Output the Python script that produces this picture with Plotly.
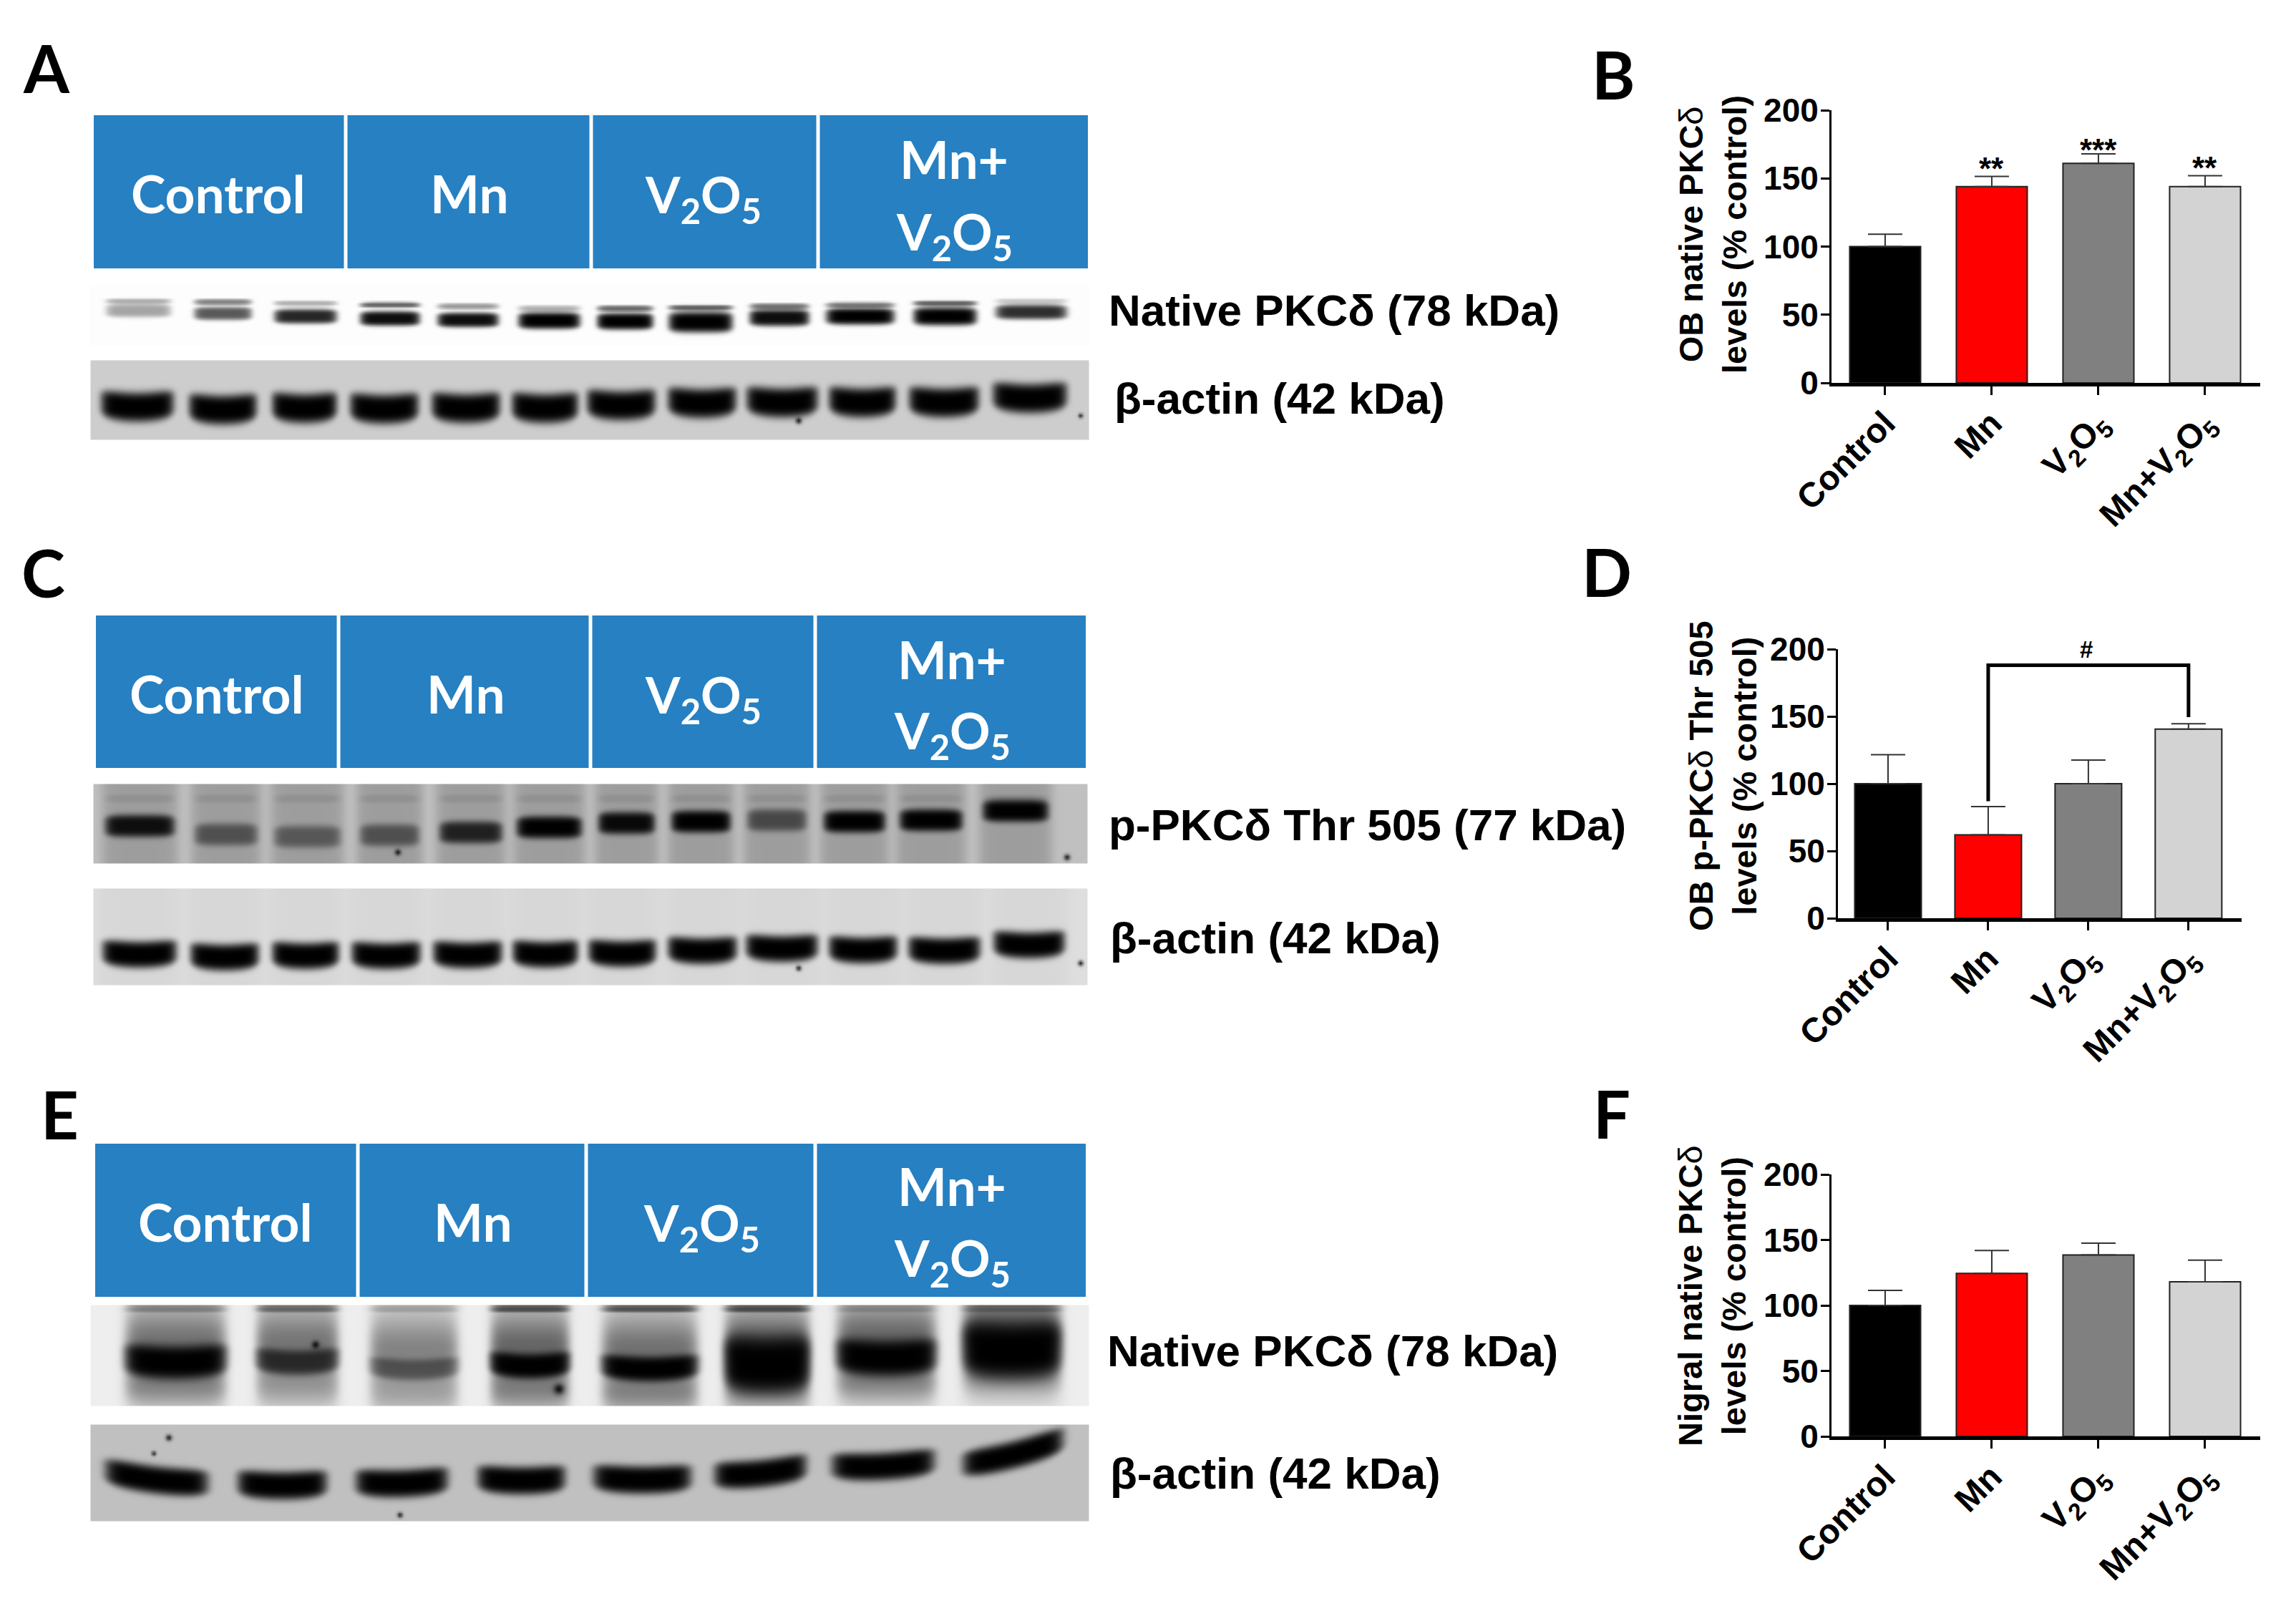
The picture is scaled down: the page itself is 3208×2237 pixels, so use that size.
import numpy as np
import plotly.graph_objects as go

W, H = 3208, 2237

# ---------- bar chart data ----------
categories = ["Control", "Mn", "V2O5", "Mn+V2O5"]
tick_labels = ["Control", "Mn", "V<sub>2</sub>O<sub>5</sub>", "Mn+V<sub>2</sub>O<sub>5</sub>"]
bar_colors = ["#000000", "#ff0000", "#808080", "#d3d3d3"]

b_values = [100, 144, 161, 144]
b_errors = [9, 7.5, 7, 8]
d_values = [100, 62, 100, 140.5]
d_errors = [21.5, 21, 17.5, 4]
f_values = [100, 124.5, 138.5, 118]
f_errors = [11.5, 17.5, 9, 16.5]
yticks = [0, 50, 100, 150, 200]

# ---------- western-blot band readings (crop pixels of the reference) ----------
a1_left = [147, 270, 382, 502, 610, 723, 833, 933, 1046, 1153, 1275, 1390]
a1_right = [238, 351, 470, 586, 696, 810, 912, 1023, 1130, 1249, 1364, 1490]
a1_low_y = [433, 437, 441, 444, 446, 447, 448, 449, 443, 441, 441, 435]
a1_low_h = [19, 19, 21, 21, 21, 24, 24, 30, 24, 24, 26, 21]
a1_low_d = [.35, .65, .85, .95, .95, 1, 1, 1, .95, 1, 1, .82]
a1_up_y = [420, 421, 423, 425, 427, 430, 430, 429, 427, 425, 423, 420]
a1_up_d = [.3, .5, .3, .6, .4, .3, .6, .6, .55, .5, .6, .2]

a2_left = [140, 263, 379, 488, 602, 714, 819, 932, 1042, 1157, 1269, 1386]
a2_right = [242, 358, 470, 584, 698, 807, 915, 1028, 1142, 1251, 1367, 1490]
a2_y = [568, 572, 570, 571, 570, 570, 566, 563, 562, 562, 562, 556]

c1_left = [146, 271, 382, 502, 613, 721, 835, 937, 1043, 1150, 1256, 1372]
c1_right = [243, 359, 475, 585, 701, 812, 914, 1020, 1126, 1236, 1344, 1464]
c1_y = [1153, 1165, 1168, 1166, 1162, 1155, 1149, 1147, 1145, 1147, 1145, 1132]
c1_d = [.92, .5, .45, .5, .8, 1, .95, 1, .55, 1, 1, 1]

c2_left = [142, 265, 379, 490, 604, 715, 821, 932, 1041, 1157, 1268, 1387]
c2_right = [246, 361, 473, 587, 701, 807, 916, 1029, 1142, 1253, 1369, 1487]
c2_y = [1333, 1337, 1335, 1335, 1334, 1333, 1332, 1328, 1325, 1327, 1328, 1320]

e1_left = [174, 357, 516, 684, 840, 1011, 1168, 1344]
e1_right = [315, 472, 639, 795, 974, 1131, 1307, 1482]
e1_y = [1903, 1903, 1913, 1908, 1912, 1907, 1897, 1887]
e1_h = [48, 36, 30, 36, 36, 80, 52, 78]
e1_d = [1, .7, .45, 1, 1, 1, 1, 1]
e1_smear = [.5, .48, .42, .55, .5, .62, .55, .65]

e2_left = [146, 331, 496, 666, 828, 997, 1161, 1344]
e2_right = [290, 456, 625, 789, 965, 1126, 1305, 1485]
e2_y = [2067, 2075, 2072, 2068, 2067, 2058, 2048, 2032]
e2_slope = [.12, 0, -.03, 0, 0, -.1, -.05, -.25]


def blot(x0, x1, y0, y1, bg, lane_tone, left, right, layers, specks=()):
    xs = np.arange(x0, x1 + 3, 3.0)
    ys = np.arange(y0, y1 + 3, 3.0)
    X, Y = np.meshgrid(xs, ys)
    z = np.full(X.shape, float(bg))
    for l, r in zip(left, right):
        c, w = (l + r) / 2, (r - l) / 2
        z *= 1 - (1 - lane_tone) * np.exp(-(((X - c) / (w + 6)) ** 8))
    for layer in layers:
        curve = layer.get("curve", 0)
        power = layer.get("power", 4)
        for i, (l, r) in enumerate(zip(left, right)):
            c, w = (l + r) / 2, (r - l) / 2
            u = (X - c) / w
            s = layer.get("slope", [0] * len(left))[i]
            h = layer["h"][i] / 2 * np.maximum(1 - 0.18 * u ** 4, .2)
            v = (Y - layer["y"][i] - s * (X - c) + curve * u ** 2) / h
            g = np.exp(-v ** power) * np.exp(-np.abs(u) ** 10)
            z *= 1 - layer["d"][i] * g
    for sx, sy, sr in specks:
        z *= 1 - 0.9 * np.exp(-(((X - sx) ** 2 + (Y - sy) ** 2) / sr ** 2))
    return go.Heatmap(x=xs, y=ys, z=z, zmin=0, zmax=255, zsmooth="best", showscale=False,
                      colorscale=[[0, "#000000"], [1, "#ffffff"]], hoverinfo="skip",
                      xaxis="x", yaxis="y")


n = 12
blots = [
    blot(128, 1519, 400, 480, 253, 1.0, a1_left, a1_right, [
        dict(y=a1_low_y, h=a1_low_h, d=a1_low_d),
        dict(y=a1_up_y, h=[8] * n, d=a1_up_d)]),
    blot(128, 1519, 505, 611, 205, 1.0, a2_left, a2_right, [
        dict(y=a2_y, h=[42] * n, d=[1] * n, curve=6)],
         specks=[(1115, 587, 4), (1509, 580, 3)]),
    blot(132, 1518, 1097, 1205, 192, .82, c1_left, c1_right, [
        dict(y=c1_y, h=[32] * n, d=c1_d),
        dict(y=[1115] * n, h=[12] * n, d=[.08] * n)],
         specks=[(1490, 1197, 4), (555, 1190, 4)]),
    blot(132, 1518, 1243, 1375, 222, .97, c2_left, c2_right, [
        dict(y=c2_y, h=[38] * n, d=[1] * n, curve=5)],
         specks=[(1115, 1352, 3.5), (1509, 1345, 3.5)]),
    blot(128, 1518, 1825, 1962, 238, .95, e1_left, e1_right, [
        dict(y=e1_y, h=e1_h, d=e1_d, curve=6),
        dict(y=[v - 26 for v in e1_y], h=[110] * 8, d=e1_smear, power=2),
        dict(y=[v + 34 for v in e1_y], h=[56] * 8, d=[.32, .22, .18, .32, .32, .32, .32, .32], power=2),
        dict(y=[1828] * 8, h=[9] * 8, d=[.3, .45, .2, .6, .6, .6, .2, .3]),
        ], specks=[(440, 1878, 5), (780, 1940, 7)]),
    blot(128, 1518, 1992, 2122, 192, 1.0, e2_left, e2_right, [
        dict(y=e2_y, h=[40] * 8, d=[1] * 8, slope=e2_slope, curve=5)],
         specks=[(235, 2008, 4), (214, 2030, 3), (558, 2116, 3.5)]),
]

fig = go.Figure(blots)


# ---------- bar panels ----------
def add_bars(ax, values, errors):
    fig.add_trace(go.Bar(
        x=categories, y=values, width=0.665,
        marker=dict(color=bar_colors, line=dict(color="#222222", width=2)),
        error_y=dict(type="data", symmetric=False, array=errors, arrayminus=[0] * 4,
                     thickness=2, width=24, color="#333333"),
        xaxis="x" + ax, yaxis="y" + ax, showlegend=False))


add_bars("2", b_values, b_errors)
add_bars("3", d_values, d_errors)
add_bars("4", f_values, f_errors)
fig.add_trace(go.Scatter(x=["Mn", "Mn", "Mn+V2O5", "Mn+V2O5"], y=[87, 188, 188, 149.5],
                         mode="lines", line=dict(color="black", width=5),
                         xaxis="x3", yaxis="y3", showlegend=False))

XTICK = dict(family="Liberation Sans", size=48, color="black", weight="bold")
YTICK = dict(family="Liberation Sans", size=46, color="black", weight="bold")
DELTA = "<span style='font-weight:normal'>δ</span>"


def axes(x0, x1, y_top, y_bot, xr):
    xa = dict(domain=[x0 / W, x1 / W], range=xr, type="category", categoryorder="array",
              categoryarray=categories, tickmode="array", tickvals=categories, ticktext=tick_labels,
              tickangle=-45, tickfont=XTICK, showline=True, linewidth=5, linecolor="black",
              ticks="outside", ticklen=12, tickwidth=3, tickcolor="black", ticklabelstandoff=-8,
              showgrid=False, zeroline=False, fixedrange=True)
    ya = dict(domain=[1 - y_bot / H, 1 - y_top / H], range=[0, 200], tickmode="array",
              tickvals=yticks, tickfont=YTICK, showline=True, linewidth=3, linecolor="black",
              ticks="outside", ticklen=12, tickwidth=3, tickcolor="black", ticklabelstandoff=-6,
              showgrid=False, zeroline=False, fixedrange=True)
    return xa, ya


xb, yb = axes(2559, 3158, 154, 535, [-0.503, 3.517])
xd, yd = axes(2568, 3132, 907, 1283, [-0.5, 3.53])
xf, yf = axes(2559, 3158, 1641, 2007, [-0.503, 3.517])
xb["anchor"], yb["anchor"] = "y2", "x2"
xd["anchor"], yd["anchor"] = "y3", "x3"
xf["anchor"], yf["anchor"] = "y4", "x4"

# ---------- blue headers ----------
BLUE = "#2680c2"
headers = [(161, 375, [131, 483, 826, 1143, 1520]),
           (860, 1073, [134, 473, 825, 1139, 1517]),
           (1598, 1812, [133, 500, 819, 1139, 1517])]
shapes = []
for top, bottom, edges in headers:
    for a, b in zip(edges[:-1], edges[1:]):
        shapes.append(dict(type="rect", xref="x", yref="y", x0=a + 2.5 if a != edges[0] else a,
                           x1=b - 2.5 if b != edges[-1] else b, y0=top, y1=bottom,
                           fillcolor=BLUE, line=dict(width=0), layer="below"))

ann = []


def text(x, y, s, family="Liberation Sans", size=62, color="black", anchor="center",
         xref="x", yref="y", angle=0):
    ann.append(dict(x=x, y=y, text=s, xref=xref, yref=yref, showarrow=False, xanchor=anchor, yanchor="middle",
                    textangle=angle,
                    font=dict(family=family, size=size, color=color, weight="bold")))


V2O5 = "V<sub>2</sub>O<sub>5</sub>"
for cx, ys in [([305, 656, 982, 1333], (270, 222, 328)),
               ([303, 651, 982, 1330], (969, 921, 1025)),
               ([315, 661, 980, 1330], (1707, 1657, 1762))]:
    text(cx[0], ys[0], "Control", "Lato", 73, "white")
    text(cx[1], ys[0], "Mn", "Lato", 73, "white")
    text(cx[2], ys[0] + 6, V2O5, "Lato", 70, "white")
    text(cx[3], ys[1], "Mn+", "Lato", 73, "white")
    text(cx[3], ys[2], V2O5, "Lato", 70, "white")

for x, y, s in [(65, 94, "A"), (2254, 103, "B"), (60, 799, "C"), (2245, 798, "D"),
                (83, 1556, "E"), (2252, 1555, "F")]:
    text(x, y, s, "Lato", 92)

for x, y, s in [(1547, 433, "Native PKCδ (78 kDa)"), (1555, 556, "β-actin (42 kDa)"),
                (1547, 1152, "p-PKCδ Thr 505 (77 kDa)"), (1549, 1310, "β-actin (42 kDa)"),
                (1545, 1887, "Native PKCδ (78 kDa)"), (1549, 2058, "β-actin (42 kDa)")]:
    text(x, y, s, size=62, anchor="left")

for x, y, s in [(2393, 328, f"OB native PKC{DELTA}<br>levels (% control)"),
                (2407, 1084, f"OB p-PKC{DELTA} Thr 505<br>levels (% control)"),
                (2392, 1811, f"Nigral native PKC{DELTA}<br>levels (% control)")]:
    text(x, y, s, size=47, angle=-90)

# significance marks, in data coordinates of their panel
text("Mn", 157, "**", size=44, xref="x2", yref="y2")
text("V2O5", 171, "***", size=44, xref="x2", yref="y2")
text("Mn+V2O5", 158, "**", size=44, xref="x2", yref="y2")
text(1.98, 200, "#", size=33, xref="x3", yref="y3")

fig.update_layout(
    width=W, height=H, margin=dict(l=0, r=0, t=0, b=0, autoexpand=False), paper_bgcolor="white",
    plot_bgcolor="rgba(0,0,0,0)", showlegend=False,
    xaxis=dict(domain=[0, 1], range=[0, W], visible=False, fixedrange=True),
    yaxis=dict(domain=[0, 1], range=[H, 0], visible=False, fixedrange=True),
    xaxis2=xb, yaxis2=yb, xaxis3=xd, yaxis3=yd, xaxis4=xf, yaxis4=yf,
    shapes=shapes, annotations=ann,
)

fig.write_html("out.html", config={"displayModeBar": False},
               post_script="document.body.style.margin='0';document.body.style.overflow='hidden';")
